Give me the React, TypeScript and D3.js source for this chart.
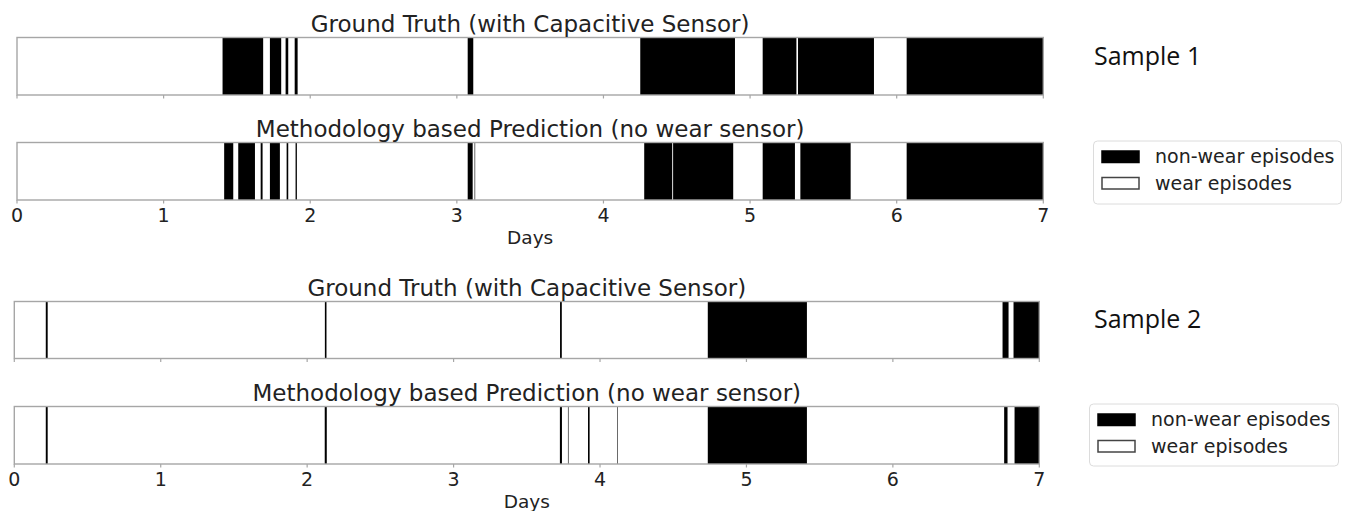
import * as d3 from 'd3';
import { useEffect, useRef } from 'react';

// days on the x axis
const tickDays = [0, 1, 2, 3, 4, 5, 6, 7];
const truthTitle = 'Ground Truth (with Capacitive Sensor)';
const predTitle = 'Methodology based Prediction (no wear sensor)';
const legendLabels = ['non-wear episodes', 'wear episodes'];
const sampleLabels = ['Sample 1', 'Sample 2'];

// non-wear episodes as [start day, end day]
const sample1Truth = [
  [1.402, 1.679], [1.725, 1.802], [1.832, 1.85], [1.894, 1.914],
  [3.074, 3.112], [4.251, 4.897], [5.086, 5.316], [5.327, 5.845], [6.068, 7],
];
const sample1Pred = [
  [1.413, 1.475], [1.509, 1.623], [1.662, 1.675], [1.725, 1.793],
  [1.839, 1.85], [1.9, 1.909], [3.074, 3.108], [3.121, 3.125],
  [4.278, 4.469], [4.475, 4.885], [5.086, 5.306], [5.343, 5.686], [6.068, 7],
];
const sample2Truth = [
  [0.215, 0.228], [2.121, 2.132], [3.727, 3.739], [4.736, 5.413],
  [6.749, 6.79], [6.824, 7],
];
const sample2Pred = [
  [0.215, 0.228], [2.12, 2.134], [3.726, 3.74], [3.781, 3.785],
  [3.918, 3.929], [4.118, 4.122], [4.736, 5.413], [6.76, 6.783], [6.831, 7],
];

const W = 1352;
const H = 511;
const FONT = 'DejaVu Sans, sans-serif';

type Ep = number[];

function drawPanel(svg, episodes: Ep[], x, top: number, bottom: number, title: string, labels: boolean) {
  const g = svg.append('g');
  g.append('rect')
    .attr('x', x(0)).attr('y', top)
    .attr('width', x(7) - x(0)).attr('height', bottom - top)
    .attr('fill', '#fff');

  g.selectAll('.ep')
    .data(episodes)
    .join('rect')
    .attr('class', 'ep')
    .attr('x', (d) => x(d[0]))
    .attr('y', top)
    .attr('width', (d) => x(d[1]) - x(d[0]))
    .attr('height', bottom - top)
    .attr('fill', '#000');

  g.append('rect')
    .attr('x', x(0)).attr('y', top)
    .attr('width', x(7) - x(0)).attr('height', bottom - top)
    .attr('fill', 'none')
    .attr('stroke', '#a6a6a6')
    .attr('stroke-width', 1.4);

  g.selectAll('.tk')
    .data(tickDays)
    .join('line')
    .attr('class', 'tk')
    .attr('x1', (d) => x(d)).attr('x2', (d) => x(d))
    .attr('y1', bottom).attr('y2', bottom + 3.5)
    .attr('stroke', '#a6a6a6')
    .attr('stroke-width', 1.2);

  if (labels) {
    g.selectAll('.tl')
      .data(tickDays)
      .join('text')
      .attr('class', 'tl')
      .attr('x', (d) => x(d))
      .attr('y', bottom + 22)
      .attr('text-anchor', 'middle')
      .style('font-family', FONT)
      .style('font-size', '19px')
      .style('fill', '#222')
      .text((d) => d);

    g.append('text')
      .attr('x', (x(0) + x(7)) / 2)
      .attr('y', bottom + 44)
      .attr('text-anchor', 'middle')
      .style('font-family', FONT)
      .style('font-size', '18.5px')
      .style('fill', '#222')
      .text('Days');
  }

  g.append('text')
    .attr('x', (x(0) + x(7)) / 2)
    .attr('y', top - 6)
    .attr('text-anchor', 'middle')
    .style('font-family', FONT)
    .style('font-size', '23px')
    .style('fill', '#222')
    .text(title);
}

function drawLegend(svg, left: number, top: number, width: number, height: number) {
  const g = svg.append('g');
  g.append('rect')
    .attr('x', left).attr('y', top)
    .attr('width', width).attr('height', height)
    .attr('rx', 4)
    .attr('fill', '#fff')
    .attr('stroke', '#dcdcdc');

  legendLabels.forEach((lab, i) => {
    const y = top + 10 + i * 26.5;
    g.append('rect')
      .attr('x', left + 8.5).attr('y', y)
      .attr('width', 37).attr('height', 11.5)
      .attr('fill', i === 0 ? '#000' : '#fff')
      .attr('stroke', i === 0 ? '#000' : '#444')
      .attr('stroke-width', 1.5);
    g.append('text')
      .attr('x', left + 61.5)
      .attr('y', y + 12)
      .style('font-family', FONT)
      .style('font-size', '19px')
      .style('fill', '#222')
      .text(lab);
  });
}

export default function App() {
  const svgRef = useRef(null);

  useEffect(() => {
    const svg = d3.select(svgRef.current);
    svg.selectAll('*').remove();

    svg.append('rect').attr('width', W).attr('height', H).attr('fill', '#fff');

    const x1 = d3.scaleLinear().domain([0, 7]).range([17, 1043.3]);
    const x2 = d3.scaleLinear().domain([0, 7]).range([14.3, 1039.3]);

    drawPanel(svg, sample1Truth, x1, 37.5, 95, truthTitle, false);
    drawPanel(svg, sample1Pred, x1, 142.5, 200, predTitle, true);
    drawPanel(svg, sample2Truth, x2, 301.5, 358.5, truthTitle, false);
    drawPanel(svg, sample2Pred, x2, 406.5, 464, predTitle, true);

    [65, 328].forEach((y, i) => {
      svg.append('text')
        .attr('x', 1094)
        .attr('y', y)
        .style('font-family', 'Open Sans, sans-serif')
        .style('font-size', '25px')
        .style('fill', '#111')
        .text(sampleLabels[i]);
    });

    drawLegend(svg, 1093.5, 141, 248, 63);
    drawLegend(svg, 1089.5, 404, 249, 62);
  }, []);

  return (
    <svg
      ref={svgRef}
      width={W}
      height={H}
      style={{ position: 'absolute', left: 0, top: 0, display: 'block' }}
    />
  );
}
